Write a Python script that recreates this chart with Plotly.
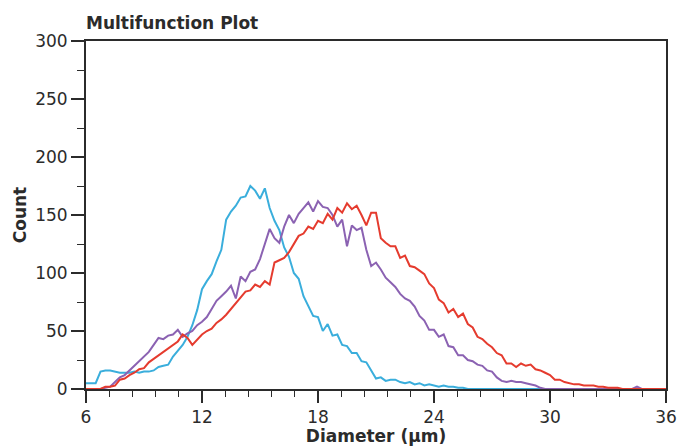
import numpy as np
import plotly.graph_objects as go

# Diameter bins (µm), 0.25 µm steps from 6 to 36
diameter = np.round(np.arange(6.0, 36.0001, 0.25), 2)

blue_counts = [
    5, 5, 5, 15, 16, 16, 15, 14,
    14, 14, 15, 14, 15, 15, 16, 19,
    20, 21, 28, 33, 38, 45, 55, 68,
    86, 93, 99, 110, 120, 146, 153, 158,
    165, 166, 175, 171, 164, 173, 156, 145,
    137, 122, 114, 100, 95, 80, 72, 63,
    62, 50, 56, 46, 47, 38, 37, 31,
    31, 24, 23, 16, 9, 10, 7, 8,
    8, 6, 5, 6, 4, 5, 3, 4,
    3, 2, 3, 2, 2, 1, 1, 0,
    0, 0, 0, 0, 0, 0, 0, 0,
    0, 0, 0, 0, 0, 0, 0, 0,
    0, 0, 0, 0, 0, 0, 0, 0,
    0, 0, 0, 0, 0, 0, 0, 0,
    0, 0, 0, 0, 0, 0, 0, 0,
    0,
]

purple_counts = [
    0, 0, 0, 0, 1, 2, 6, 10,
    12, 16, 20, 24, 28, 32, 38, 44,
    43, 46, 47, 51, 45, 48, 50, 55,
    58, 62, 69, 76, 80, 84, 89, 78,
    97, 93, 101, 103, 112, 125, 138, 130,
    126, 140, 150, 143, 151, 156, 161, 153,
    162, 157, 156, 150, 140, 146, 123, 141,
    137, 139, 120, 106, 109, 103, 96, 92,
    88, 82, 78, 76, 71, 63, 59, 51,
    51, 45, 47, 37, 36, 29, 29, 25,
    24, 21, 20, 16, 15, 10, 7, 6,
    7, 6, 6, 5, 4, 3, 1, 0,
    0, 0, 0, 0, 0, 0, 0, 0,
    0, 0, 0, 0, 0, 0, 0, 0,
    0, 0, 2, 0, 0, 0, 0, 0,
    0,
]

red_counts = [
    0, 0, 0, 0, 2, 2, 3, 8,
    9, 12, 14, 17, 18, 23, 26, 29,
    32, 35, 38, 41, 47, 44, 38, 43,
    47, 50, 52, 57, 60, 64, 69, 74,
    78, 84, 85, 90, 88, 93, 90, 109,
    111, 113, 118, 125, 132, 134, 140, 138,
    145, 143, 151, 146, 156, 152, 160, 155,
    158, 150, 141, 152, 152, 130, 126, 123,
    123, 113, 115, 106, 105, 102, 99, 91,
    87, 77, 74, 66, 69, 62, 65, 56,
    53, 45, 43, 39, 36, 31, 29, 22,
    22, 19, 22, 20, 21, 17, 16, 14,
    12, 8, 8, 6, 5, 4, 4, 3,
    3, 3, 2, 2, 1, 1, 1, 0,
    0, 0, 0, 0, 0, 0, 0, 0,
    0,
]

x_ticks = [6, 12, 18, 24, 30, 36]
y_ticks = [0, 50, 100, 150, 200, 250, 300]

FONT = "DejaVu Sans"
AXIS_COL = "#2b2b2b"

W, H = 677, 446

fig = go.Figure()
for vals, col in [(blue_counts, "#3aaedc"), (purple_counts, "#8b62b2"), (red_counts, "#e53b2e")]:
    fig.add_trace(go.Scatter(
        x=diameter, y=vals, mode="lines", line=dict(color=col, width=2),
        showlegend=False, hoverinfo="skip"))

fig.update_layout(
    width=W, height=H,
    margin=dict(l=86, r=11, t=41, b=57, autoexpand=False),
    paper_bgcolor="white", plot_bgcolor="white",
    font=dict(family=FONT, size=17, color="#2b2b2b"),
    title=dict(text="<b>Multifunction Plot</b>", x=86 / W, xanchor="left",
               xref="container", y=1 - 23 / H, yref="container", yanchor="middle",
               font=dict(family=FONT, size=17, color="#2b2b2b")),
)
fig.update_xaxes(
    range=[6, 36], tickvals=x_ticks, ticktext=[str(v) for v in x_ticks],
    ticks="outside", ticklen=12, tickwidth=1.5, tickcolor=AXIS_COL,
    showline=True, linecolor=AXIS_COL, linewidth=2, mirror=True,
    showgrid=False, zeroline=False, automargin=False, ticklabeloverflow="allow",
    minor=dict(ticks="outside", ticklen=6, tickwidth=1.2, tickcolor=AXIS_COL, dtick=1.2, tick0=6, showgrid=False),
    title=dict(text="<b>Diameter (µm)</b>", font=dict(family=FONT, size=17), standoff=2),
    tickfont=dict(family=FONT, size=17),
)
fig.update_yaxes(
    range=[0, 300], tickvals=y_ticks, ticktext=[str(v) for v in y_ticks],
    ticks="outside", ticklen=13, tickwidth=1.5, tickcolor=AXIS_COL,
    showline=True, linecolor=AXIS_COL, linewidth=2, mirror=True,
    showgrid=False, zeroline=False, automargin=False,
    minor=dict(ticks="outside", ticklen=7, tickwidth=1.2, tickcolor=AXIS_COL, dtick=25, tick0=0, showgrid=False),
    title=dict(text="<b>Count</b>", font=dict(family=FONT, size=17), standoff=4),
    tickfont=dict(family=FONT, size=17),
)

# Remove the page's default 8px body margin so the 677x446 figure fills the window.
fig.write_html(
    "out.html",
    config={"displayModeBar": False},
    post_script="document.body.style.margin='0';document.documentElement.style.overflow='hidden';",
)
